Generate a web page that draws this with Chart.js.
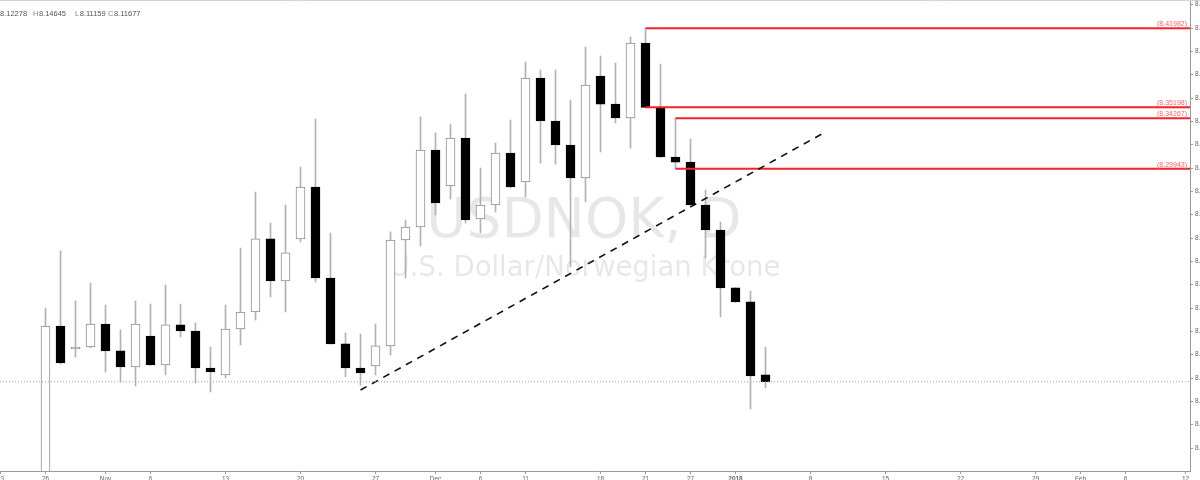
<!DOCTYPE html>
<html>
<head>
<meta charset="utf-8">
<script src="https://cdn.jsdelivr.net/npm/chart.js@4.4.1/dist/chart.umd.min.js"></script>
<style>
  html, body { margin:0; padding:0; background:#fff; }
  #wrap { position:relative; width:1200px; height:480px; overflow:hidden; background:#fff; }
  #chart { position:absolute; left:-20px; top:-10px; }
</style>
</head>
<body>
<div id="wrap"><canvas id="chart" width="1270" height="505"></canvas></div>
<script>
/* USDNOK, D — velas diarias, 23 oct 2017 → 12 feb 2018 */

// dias habiles del eje (indice = posicion en el eje x)
var days = ['Oct 23','Oct 24','Oct 25','Oct 26','Oct 27','Oct 30','Oct 31','Nov 1','Nov 2','Nov 3',
  'Nov 6','Nov 7','Nov 8','Nov 9','Nov 10','Nov 13','Nov 14','Nov 15','Nov 16','Nov 17',
  'Nov 20','Nov 21','Nov 22','Nov 23','Nov 24','Nov 27','Nov 28','Nov 29','Nov 30','Dec 1',
  'Dec 4','Dec 5','Dec 6','Dec 7','Dec 8','Dec 11','Dec 12','Dec 13','Dec 14','Dec 15',
  'Dec 18','Dec 19','Dec 20','Dec 21','Dec 22','Dec 26','Dec 27','Dec 28','Dec 29','Jan 1',
  'Jan 2','Jan 3','Jan 4','Jan 5','Jan 8','Jan 9','Jan 10','Jan 11','Jan 12','Jan 15',
  'Jan 16','Jan 17','Jan 18','Jan 19','Jan 22','Jan 23','Jan 24','Jan 25','Jan 26','Jan 29',
  'Jan 30','Jan 31','Feb 1','Feb 2','Feb 5','Feb 6','Feb 7','Feb 8','Feb 9','Feb 12'];

var firstCandle = 3; // Oct 26

var opens  = [8.0200,8.1646,8.1449,8.1466,8.1663,8.1432,8.1295,8.1560,8.1312,8.1655,
  8.1603,8.1286,8.1226,8.1620,8.1766,8.2392,8.2032,8.2392,8.2837,8.2057,
  8.1492,8.1286,8.1303,8.1475,8.2383,8.2494,8.3154,8.2846,8.3257,8.2563,
  8.2683,8.3129,8.2880,8.3771,8.3403,8.3197,8.2914,8.3788,8.3548,8.3429,
  8.4071,8.3514,8.3094,8.3051,8.2683,8.2469,8.1972,8.1852,8.12278];
var highs  = [8.1800,8.2289,8.1860,8.2014,8.1826,8.1612,8.1860,8.1834,8.1997,8.1834,
  8.1672,8.1466,8.1826,8.2314,8.2794,8.2529,8.2683,8.3009,8.3420,8.2443,
  8.1586,8.1577,8.1663,8.2452,8.2554,8.3437,8.3300,8.3377,8.3634,8.3000,
  8.3214,8.3411,8.3908,8.3840,8.3840,8.3583,8.4037,8.3960,8.3900,8.4123,
  8.41982,8.3891,8.34267,8.3249,8.2811,8.2537,8.1975,8.1946,8.14645];
var lows   = [8.0150,8.1320,8.1380,8.1460,8.1252,8.1166,8.1132,8.1310,8.1226,8.1552,
  8.1157,8.1080,8.1200,8.1483,8.1697,8.1894,8.1766,8.2366,8.2023,8.1490,
  8.1209,8.1140,8.1226,8.1397,8.2057,8.2332,8.2597,8.2734,8.2529,8.2443,
  8.2623,8.2830,8.2751,8.3043,8.3034,8.2152,8.2709,8.3137,8.3386,8.3171,
  8.3515,8.3090,8.29943,8.2680,8.2229,8.1723,8.1850,8.0935,8.11159];
var closes = [8.1646,8.1329,8.1466,8.1663,8.1432,8.1295,8.1663,8.1312,8.1655,8.1603,
  8.1286,8.1252,8.1620,8.1766,8.2392,8.2032,8.2272,8.2837,8.2057,8.1492,
  8.1286,8.1243,8.1475,8.2383,8.2494,8.3154,8.2700,8.3257,8.2554,8.2683,
  8.3129,8.2837,8.3771,8.3403,8.3197,8.2914,8.3711,8.3548,8.3429,8.4071,
  8.35198,8.3094,8.3051,8.2683,8.2469,8.1972,8.1852,8.1217,8.11677];

// etiquetas del eje x
var xTickIdx  = [0,3,7,10,15,20,25,29,32,35,40,43,46,49,54,59,64,69,72,75,79];
var xTickText = ['23','26','Nov','6','13','20','27','Dec','6','11','18','21','27','2018','8','15','22','29','Feb','6','12'];

// eje y
var yMin = 8.0403, yMax = 8.444, yStep = 0.02;
var xMin = -0.0333, xMax = 79.3;

// rayos horizontales (rojo) y linea de tendencia
var levelValues = [8.41982, 8.35198, 8.34267, 8.29943];
var levelStarts = [43, 43, 45, 45];
var trendX = [24, 55];
var trendY = [8.1097, 8.3309];
var lastClose = 8.11677;

var RED = '#f5222d', FONT = "'Liberation Sans', Arial, sans-serif";

function up(i){ return closes[i] >= opens[i]; }

var bodies = opens.map(function(o,i){ return {x:i+firstCandle, y:[o, closes[i]]}; });
var wicks  = lows.map(function(l,i){ return {x:i+firstCandle, y:[l, highs[i]]}; });

var datasets = [
  { type:'bar', data:bodies, order:1, grouped:false, barThickness:9, borderSkipped:false, borderWidth:1,
    backgroundColor:function(c){ return up(c.dataIndex) ? '#ffffff' : '#000000'; },
    borderColor:function(c){ return up(c.dataIndex) ? '#8e8e8e' : '#000000'; } },
  { type:'bar', data:wicks, order:2, grouped:false, barThickness:1, borderWidth:0, backgroundColor:'#b2b2b2' },
  { type:'line', data:[{x:xMin,y:lastClose},{x:xMax,y:lastClose}], order:0,
    borderColor:'#a0a0a0', borderWidth:1, borderDash:[1,2], pointRadius:0 },
  { type:'line', data:[{x:trendX[0],y:trendY[0]},{x:trendX[1],y:trendY[1]}], order:0,
    borderColor:'#111', borderWidth:1.6, borderDash:[7,6], pointRadius:0 }
];
levelValues.forEach(function(v,i){
  datasets.push({ type:'line', data:[{x:levelStarts[i],y:v},{x:xMax,y:v}], order:0,
    borderColor:RED, borderWidth:2, pointRadius:0 });
});

var overlay = {
  id:'overlay',
  beforeDatasetsDraw:function(chart){
    var a = chart.chartArea, g = chart.ctx;
    g.save();
    g.fillStyle = 'rgba(0,0,0,0.095)';
    g.textAlign = 'center'; g.textBaseline = 'alphabetic';
    g.font = "55px 'DejaVu Sans'";
    g.fillText('USDNOK, D', a.left + 584, a.top + 237);
    g.font = "27.5px 'DejaVu Sans'";
    g.fillText('U.S. Dollar/Norwegian Krone', a.left + 585, a.top + 276);
    g.restore();
  },
  afterDatasetsDraw:function(chart){
    var a = chart.chartArea, g = chart.ctx, ys = chart.scales.y;
    g.save();
    // etiquetas de los rayos
    g.fillStyle = '#f66'; g.font = '7px ' + FONT;
    g.textAlign = 'right'; g.textBaseline = 'alphabetic';
    levelValues.forEach(function(v){
      g.fillText('(' + v.toFixed(5) + ')', a.right - 3, ys.getPixelForValue(v) - 2);
    });
    // cabecera OHLC
    var n = closes.length - 1;
    var parts = [['O',opens[n],0],['H',highs[n],33],['L',lows[n],75],['C',closes[n],108]];
    g.textAlign = 'left'; g.font = '7.5px ' + FONT;
    parts.forEach(function(p){
      var w = g.measureText(p[0]).width;
      var x = a.left + p[2] - (p[0] === 'O' ? w + 0.5 : 0);
      g.fillStyle = '#888'; g.fillText(p[0], x, a.top + 16);
      g.fillStyle = '#555'; g.fillText(p[1].toFixed(5), x + w + 0.5, a.top + 16);
    });
    // borde superior
    g.strokeStyle = '#cdd6e4'; g.lineWidth = 1;
    g.beginPath(); g.moveTo(0, a.top + 0.5); g.lineTo(chart.width, a.top + 0.5); g.stroke();
    g.restore();
  }
};

new Chart(document.getElementById('chart'), {
  type:'bar',
  data:{ datasets:datasets },
  plugins:[overlay],
  options:{
    responsive:false, animation:false, devicePixelRatio:1,
    layout:{ padding:{ left:20, top:10, right:0, bottom:0 } },
    plugins:{ legend:{display:false}, tooltip:{enabled:false} },
    scales:{
      x:{ type:'linear', min:xMin, max:xMax, offset:false,
        grid:{ display:true, offset:false, drawOnChartArea:false, tickLength:3, color:'#9a9a9a' },
        border:{ display:true, color:'#9a9a9a' },
        afterBuildTicks:function(s){ s.ticks = xTickIdx.map(function(v){ return {value:v}; }); },
        afterFit:function(s){ s.height = 24; },
        ticks:{ autoSkip:false, maxRotation:0, padding:1, color:'#666',
          font:function(c){ return { family:FONT, size:6.5, weight:(c.tick && c.tick.value === 49) ? 'bold' : 'normal' }; },
          callback:function(v,i){ return xTickText[i]; } } },
      y:{ position:'right', min:yMin, max:yMax,
        grid:{ display:true, drawOnChartArea:false, tickLength:3, color:'#9a9a9a' },
        border:{ display:true, color:'#9a9a9a' },
        afterFit:function(s){ s.width = 60; },
        ticks:{ stepSize:yStep, includeBounds:false, padding:2, color:'#666', font:{family:FONT, size:6.5},
          callback:function(v){ return v.toFixed(5); } } }
    }
  }
});
</script>
</body>
</html>
